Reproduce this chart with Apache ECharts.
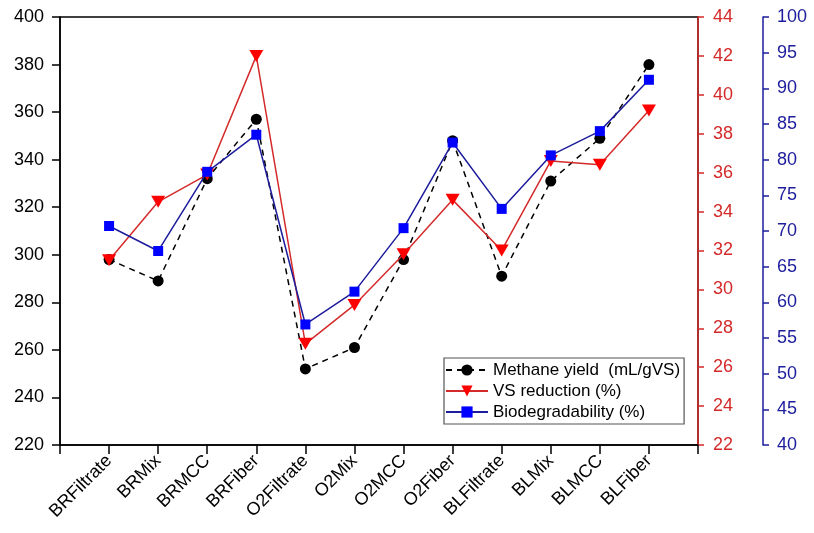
<!DOCTYPE html>
<html>
<head>
<meta charset="utf-8">
<script src="https://cdn.jsdelivr.net/npm/echarts@6/dist/echarts.min.js"></script>
<style>
  html, body { margin: 0; padding: 0; background: #fff; }
  #chart { width: 814px; height: 533px; }
</style>
</head>
<body>
<div id="chart"></div>
<script>
// samples along the x axis
const categories = ['BRFiltrate', 'BRMix', 'BRMCC', 'BRFiber', 'O2Filtrate', 'O2Mix',
                    'O2MCC', 'O2Fiber', 'BLFiltrate', 'BLMix', 'BLMCC', 'BLFiber'];
// left axis, mL/gVS
const methaneYield = [298, 289, 332, 357, 252, 261, 298, 348, 291, 331, 349, 380];
// red axis, %
const vsReduction = [31.5, 34.5, 35.9, 42.0, 27.2, 29.2, 31.8, 34.6, 32.0, 36.6, 36.4, 39.2];
// blue axis, %
const biodegradability = [70.7, 67.2, 78.3, 83.5, 56.9, 61.5, 70.4, 82.4, 73.1, 80.6, 84.0, 91.2];

const FONT = 'Liberation Sans, Arial, sans-serif';
const RED = '#d42a2a';
const NAVY = '#1c1c9c';

const toPoints = arr => arr.map((v, i) => [i + 1, v]);

const chart = echarts.init(document.getElementById('chart'));
chart.setOption({
    animation: false,
    grid: {
        left: 60, right: 116, top: 17, bottom: 88,
        show: true, borderColor: '#000', borderWidth: 1.5
    },
    legend: {
        orient: 'vertical',
        left: 444, top: 358,
        padding: [3, 4, 3, 1],
        itemGap: 3,
        itemWidth: 42, itemHeight: 14,
        backgroundColor: '#fff',
        borderColor: '#555', borderWidth: 1.2,
        textStyle: { fontFamily: FONT, fontSize: 17, color: '#000', lineHeight: 18 },
        data: ['Methane yield  (mL/gVS)', 'VS reduction (%)', 'Biodegradability (%)']
    },
    xAxis: {
        type: 'value',
        min: 0, max: 13, interval: 1,
        splitLine: { show: false },
        axisLine: { lineStyle: { color: '#000', width: 1.5 } },
        axisTick: { length: 9, lineStyle: { color: '#000', width: 1.5 } },
        axisLabel: {
            rotate: 45,
            margin: 13,
            fontFamily: FONT, fontSize: 18, color: '#000',
            formatter: v => categories[v - 1] || ''
        }
    },
    yAxis: [
        {
            type: 'value', position: 'left',
            min: 220, max: 400, interval: 20,
            splitLine: { show: false },
            axisLine: { show: true, lineStyle: { color: '#000', width: 1.5 } },
            axisTick: { show: true, length: 8, lineStyle: { color: '#000', width: 1.5 } },
            axisLabel: { fontFamily: FONT, fontSize: 18, color: '#000', margin: 16 }
        },
        {
            type: 'value', position: 'right',
            min: 22, max: 44, interval: 2,
            splitLine: { show: false },
            axisLine: { show: true, lineStyle: { color: RED, width: 1.5 } },
            axisTick: { show: true, length: 6, lineStyle: { color: RED, width: 1.5 } },
            axisLabel: { fontFamily: FONT, fontSize: 18, color: RED, margin: 15 }
        },
        {
            type: 'value', position: 'right', offset: 65,
            min: 40, max: 100, interval: 5,
            splitLine: { show: false },
            axisLine: { show: true, lineStyle: { color: NAVY, width: 1.5 } },
            axisTick: { show: true, length: 6, lineStyle: { color: NAVY, width: 1.5 } },
            axisLabel: { fontFamily: FONT, fontSize: 18, color: NAVY, margin: 14 }
        }
    ],
    series: [
        {
            name: 'Methane yield  (mL/gVS)',
            type: 'line', yAxisIndex: 0, z: 3,
            data: toPoints(methaneYield),
            symbol: 'circle', symbolSize: 11,
            itemStyle: { color: '#000' },
            lineStyle: { color: '#000', width: 1.5, type: [6, 5] }
        },
        {
            name: 'VS reduction (%)',
            type: 'line', yAxisIndex: 1, z: 4,
            data: toPoints(vsReduction),
            symbol: 'triangle', symbolRotate: 180, symbolSize: [14, 12],
            itemStyle: { color: '#ff0000' },
            lineStyle: { color: RED, width: 1.5 }
        },
        {
            name: 'Biodegradability (%)',
            type: 'line', yAxisIndex: 2, z: 5,
            data: toPoints(biodegradability),
            symbol: 'rect', symbolSize: 10,
            itemStyle: { color: '#0000ff' },
            lineStyle: { color: NAVY, width: 1.5 }
        }
    ]
});
</script>
</body>
</html>
